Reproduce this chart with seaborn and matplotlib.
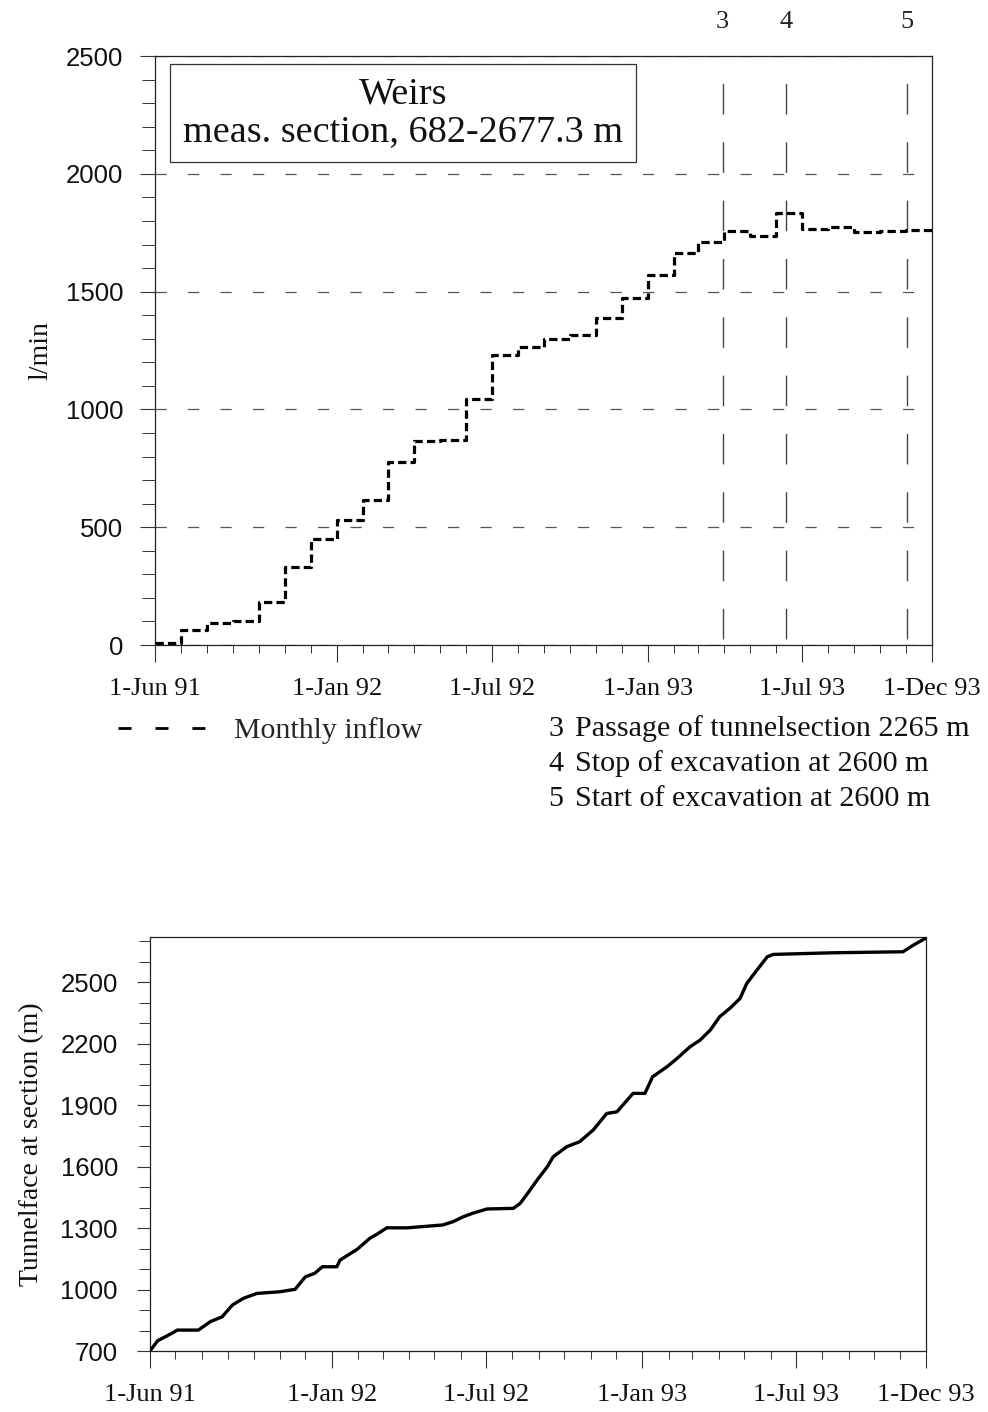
import numpy as np
import pandas as pd
import matplotlib
matplotlib.use("Agg")
import matplotlib.pyplot as plt
import matplotlib.dates as mdates
import matplotlib.ticker as mticker
import matplotlib.transforms as mtransforms
from matplotlib.lines import Line2D
import seaborn as sns

# ---------------- data ----------------
# monthly inflow at the weirs (l/min), value holds from the first of each month
inflow_months = pd.date_range("1991-06-01", "1993-11-01", freq="MS")
inflow_values = [10, 62, 92, 100, 181, 332, 449,
                 531, 617, 778, 868, 870, 1044, 1231, 1266, 1297, 1316, 1389, 1471,
                 1570, 1665, 1712, 1757, 1736, 1832, 1765, 1776, 1752, 1757, 1762]
period_end = "1993-12-01"

# position of the tunnel face (m)
face_dates = ["1991-06-01", "1991-06-10", "1991-06-28", "1991-07-03", "1991-07-28",
              "1991-08-11", "1991-08-25", "1991-09-06", "1991-09-19", "1991-10-05",
              "1991-11-01", "1991-11-19", "1991-12-01", "1991-12-12", "1991-12-21",
              "1992-01-07", "1992-01-11", "1992-01-31", "1992-02-15", "1992-02-23",
              "1992-03-06", "1992-03-30", "1992-05-11", "1992-05-23", "1992-06-04",
              "1992-06-15", "1992-07-02", "1992-08-02", "1992-08-10", "1992-08-19",
              "1992-08-30", "1992-09-11", "1992-09-18", "1992-10-04", "1992-10-19",
              "1992-11-04", "1992-11-20", "1992-12-02", "1992-12-21", "1993-01-04",
              "1993-01-13", "1993-01-30", "1993-02-11", "1993-02-26", "1993-03-10",
              "1993-03-22", "1993-04-02", "1993-04-14", "1993-04-26", "1993-05-04",
              "1993-05-16", "1993-05-28", "1993-06-04", "1993-08-13", "1993-11-04",
              "1993-11-16", "1993-12-01"]
face_values = [700, 750, 789, 802, 802,
               843, 867, 924, 957, 981,
               989, 1001, 1062, 1079, 1111,
               1111, 1144, 1196, 1250, 1269,
               1301, 1301, 1315, 1331, 1355,
               1372, 1393, 1396, 1420, 1470,
               1534, 1599, 1648, 1697, 1721,
               1778, 1859, 1867, 1957, 1957,
               2038, 2087, 2128, 2184, 2217,
               2266, 2331, 2372, 2420, 2494,
               2559, 2623, 2635, 2643, 2648,
               2680, 2715]

# excavation events
event_dates = ["1993-03-30", "1993-06-13", "1993-11-02"]
event_ids = ["3", "4", "5"]
event_notes = ["Passage of tunnelsection 2265 m",
               "Stop of excavation at 2600 m",
               "Start of excavation at 2600 m"]

# date axis labels
tick_dates = ["1991-06-01", "1992-01-01", "1992-07-01", "1993-01-01", "1993-07-01", "1993-12-01"]
tick_labels = ["1-Jun 91", "1-Jan 92", "1-Jul 92", "1-Jan 93", "1-Jul 93", "1-Dec 93"]

# ---------------- style ----------------
sns.set_theme(style="ticks")
SERIF = "Liberation Serif"
SANS = "Liberation Sans"
plt.rcParams["font.family"] = [SANS, "DejaVu Sans"]
plt.rcParams["axes.edgecolor"] = "#222222"
plt.rcParams["axes.linewidth"] = 0.9

fig = plt.figure(figsize=(9.88, 14.12), dpi=100)
fig.patch.set_facecolor("white")

ax1 = fig.add_axes([0.157, 0.5432, 0.786, 0.4171])
ax2 = fig.add_axes([0.1518, 0.0432, 0.7854, 0.2932])

xmin = pd.Timestamp(tick_dates[0])
xmax = pd.Timestamp(period_end)

# ---------------- upper panel: monthly inflow ----------------
inflow_df = pd.DataFrame({
    "date": list(inflow_months) + [pd.Timestamp(period_end)],
    "inflow": inflow_values + [inflow_values[-1]],
})
sns.lineplot(data=inflow_df, x="date", y="inflow", ax=ax1, color="black",
             linewidth=2.3, drawstyle="steps-post", linestyle=(0, (2.6, 1.3)),
             estimator=None, zorder=4)

ax1.set_ylim(0, 2500)
ax1.yaxis.set_major_locator(mticker.MultipleLocator(500))
ax1.yaxis.set_minor_locator(mticker.MultipleLocator(100))
ax1.yaxis.grid(True, which="major", color="#555555", linewidth=0.9,
               linestyle=(0, (9, 17)))
ax1.set_axisbelow(True)

for d in event_dates:
    ax1.axvline(pd.Timestamp(d), ymin=0.01, ymax=0.97, color="#444444",
                linewidth=1.0, linestyle=(0, (22, 20)), zorder=2)

trans = mtransforms.blended_transform_factory(ax1.transData, ax1.transAxes)
for d, lab in zip(event_dates, event_ids):
    ax1.text(pd.Timestamp(d), 1.058, lab, transform=trans, ha="center", va="center",
             fontsize=19, family=SERIF, color="#222222")

ax1.text(0.319, 0.903, "Weirs\nmeas. section, 682-2677.3 m", transform=ax1.transAxes,
         ha="center", va="center", multialignment="center", fontsize=27.5,
         family=SERIF, linespacing=1.12, color="#111111",
         bbox=dict(boxstyle="square,pad=0.33", fc="white", ec="#333333", lw=0.9),
         zorder=5)

ax1.set_ylabel("l/min", family=SERIF, fontsize=20, color="#111111")
ax1.yaxis.set_label_coords(-0.131, 0.5)

# ---------------- lower panel: tunnel face ----------------
face_df = pd.DataFrame({"date": pd.to_datetime(face_dates), "face": face_values})
sns.lineplot(data=face_df, x="date", y="face", ax=ax2, color="black",
             linewidth=2.4, estimator=None, zorder=4)
ax2.set_ylim(700, 2720)
ax2.yaxis.set_major_locator(mticker.FixedLocator(np.arange(700, 2501, 300)))
ax2.yaxis.set_minor_locator(mticker.FixedLocator(np.arange(700, 2701, 100)))
ax2.set_ylabel("Tunnelface at section (m)", family=SERIF, fontsize=20, color="#111111")
ax2.yaxis.set_label_coords(-0.136, 0.5)

# ---------------- shared axis formatting ----------------
for ax, ylen, ypad in ((ax1, 10.8, 12.0), (ax2, 9.4, 13.7)):
    ax.set_xlim(xmin, xmax)
    ax.xaxis.set_major_locator(mticker.FixedLocator(mdates.date2num(pd.to_datetime(tick_dates))))
    ax.xaxis.set_major_formatter(mticker.FixedFormatter(tick_labels))
    ax.xaxis.set_minor_locator(mdates.MonthLocator())
    ax.set_xlabel("")
    ax.tick_params(axis="x", which="major", direction="out", length=12, width=0.8,
                   pad=12, labelsize=19, color="#333333", labelcolor="#111111")
    ax.tick_params(axis="x", which="minor", direction="out", length=6, width=0.7,
                   color="#333333")
    ax.tick_params(axis="y", which="major", direction="out", length=ylen, width=0.8,
                   pad=ypad, labelsize=18.5, color="#333333", labelcolor="#111111")
    ax.tick_params(axis="y", which="minor", direction="out", length=ylen - 1.5,
                   width=0.7, color="#333333")
    for t in ax.get_xticklabels():
        t.set_family(SERIF)
    for t in ax.get_yticklabels():
        t.set_family(SANS)
    for side in ("top", "right", "left", "bottom"):
        ax.spines[side].set_visible(True)
    ax.set_facecolor("white")

# ---------------- key and notes ----------------
key_handle = Line2D([], [], color="black", linewidth=2.0, linestyle=(0, (4.7, 8.6)))
fig.legend(handles=[key_handle], labels=["Monthly inflow"], loc="center left",
           bbox_to_anchor=(118 / 988, 1 - 731 / 1412), frameon=False,
           handlelength=3.0, handletextpad=0.9, borderpad=0, borderaxespad=0,
           prop={"family": SERIF, "size": 21.5})

for i, (num, note) in enumerate(zip(event_ids, event_notes)):
    y = 1 - (729 + 35 * i) / 1412
    fig.text(548 / 988, y, num, ha="left", va="center", fontsize=21.7, family=SERIF,
             color="#111111")
    fig.text(575 / 988, y, note, ha="left", va="center", fontsize=21.7, family=SERIF,
             color="#111111")

fig.savefig("out.png", dpi=100, facecolor="white")
